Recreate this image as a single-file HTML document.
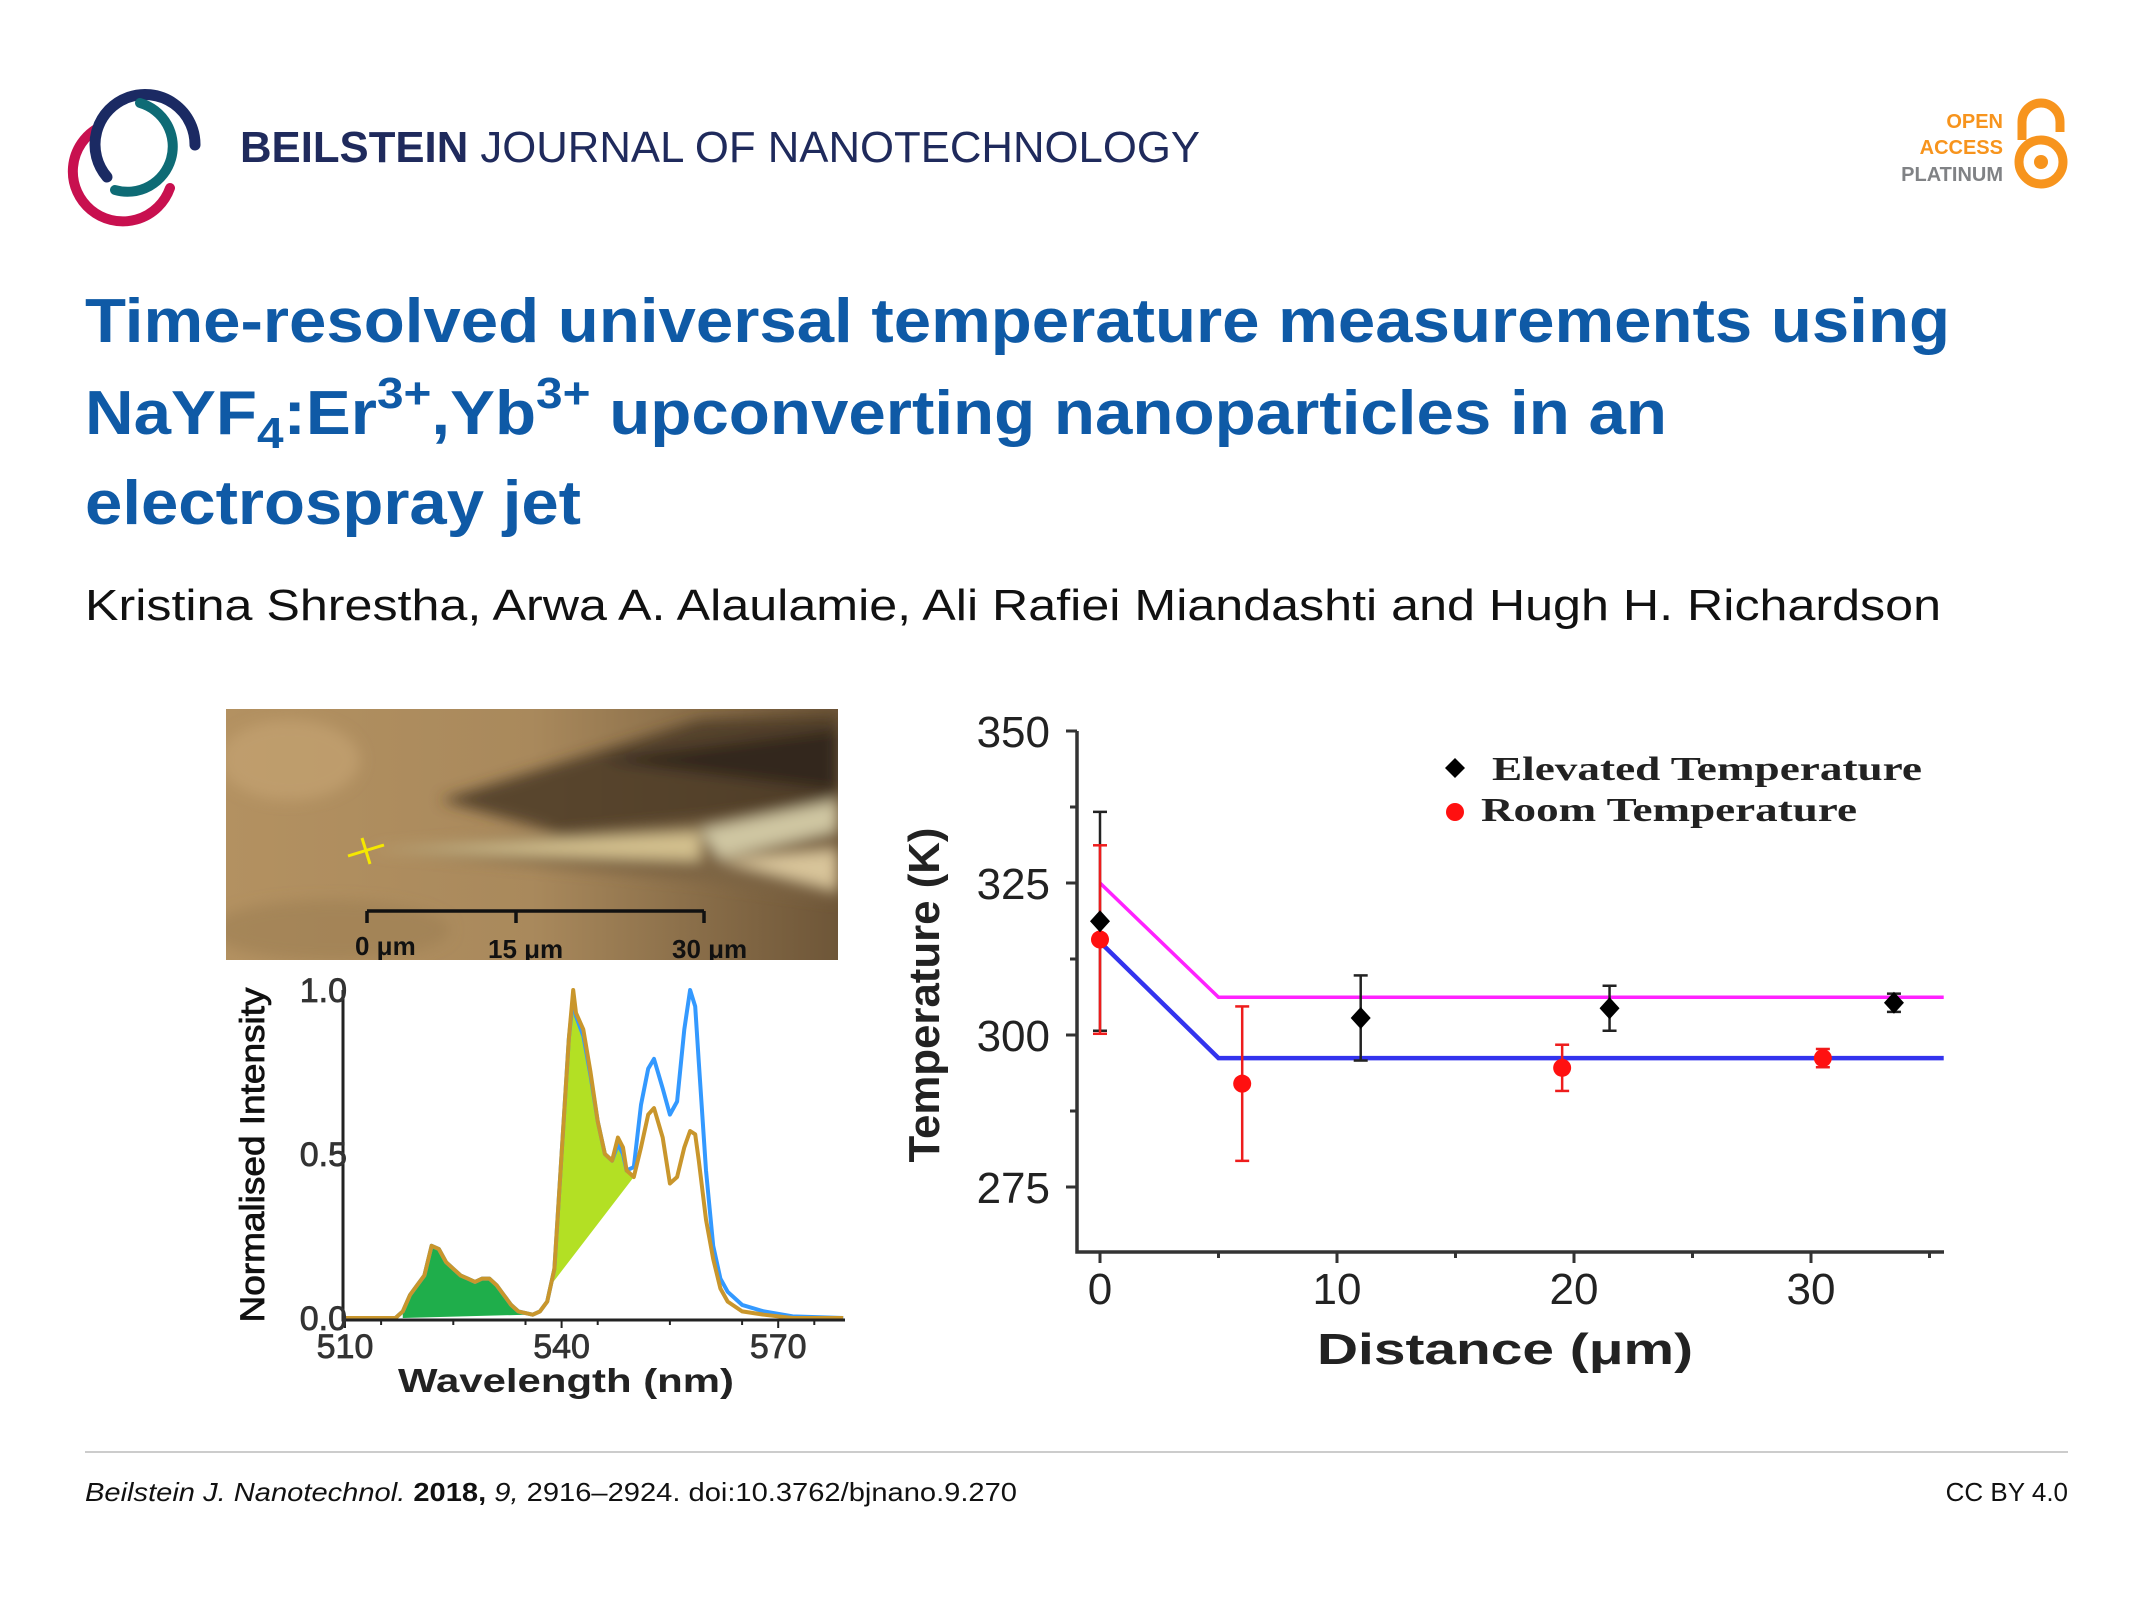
<!DOCTYPE html>
<html><head><meta charset="utf-8"><style>
html,body{margin:0;padding:0;background:#fff;}
svg{display:block;}
.sans{font-family:"Liberation Sans",sans-serif;}
.serif{font-family:"Liberation Serif",serif;}
</style></head>
<body>
<svg id="page" class="sans" font-family="Liberation Sans, sans-serif" width="2150" height="1602" viewBox="0 0 2150 1602" xmlns="http://www.w3.org/2000/svg">
<defs>
  <linearGradient id="bgPhoto" x1="0" y1="0" x2="1" y2="0">
    <stop offset="0" stop-color="#b39161"/>
    <stop offset="0.5" stop-color="#a9895c"/>
    <stop offset="1" stop-color="#6e5638"/>
  </linearGradient>
  <filter id="blur6"><feGaussianBlur stdDeviation="7"/></filter>
  <clipPath id="photoClip"><rect x="226" y="709" width="612" height="251"/></clipPath>
</defs>

<!-- Header -->
<g fill="none" stroke-linecap="round">
  <path d="M 98 128 A 50 50 0 1 0 170 188" stroke="#c8104f" stroke-width="10"/>
  <path d="M 107 177 A 50 50 0 1 1 195 145" stroke="#1b2a63" stroke-width="11"/>
  <path d="M 140 103 A 44 44 0 1 1 115 190" stroke="#0e6b75" stroke-width="10"/>
</g>
<text x="240" y="162" font-size="44" fill="#1f2a5c" textLength="960" lengthAdjust="spacingAndGlyphs"><tspan font-weight="bold">BEILSTEIN</tspan> JOURNAL OF NANOTECHNOLOGY</text>

<g>
  <text x="2003" y="128" font-size="20" font-weight="bold" fill="#f7941d" text-anchor="end">OPEN</text>
  <text x="2003" y="154" font-size="20" font-weight="bold" fill="#f7941d" text-anchor="end">ACCESS</text>
  <text x="2003" y="181" font-size="20" font-weight="bold" fill="#808285" text-anchor="end">PLATINUM</text>
  <path d="M 2022 140 L 2022 122 A 19 19 0 0 1 2060 122 L 2060 132" fill="none" stroke="#f7941d" stroke-width="9"/>
  <circle cx="2041" cy="162" r="22" fill="none" stroke="#f7941d" stroke-width="9"/>
  <circle cx="2041" cy="162" r="7" fill="#f7941d"/>
</g>

<g fill="#0f5aa6" font-weight="bold" font-size="62">
  <text x="85" y="342" textLength="1865" lengthAdjust="spacingAndGlyphs">Time-resolved universal temperature measurements using</text>
  <text x="85" y="434" textLength="1582" lengthAdjust="spacingAndGlyphs">NaYF<tspan font-size="44" dy="14">4</tspan><tspan dy="-14">:Er</tspan><tspan font-size="44" dy="-26">3+</tspan><tspan dy="26">,Yb</tspan><tspan font-size="44" dy="-26">3+</tspan><tspan dy="26"> upconverting nanoparticles in an</tspan></text>
  <text x="85" y="524" textLength="496" lengthAdjust="spacingAndGlyphs">electrospray jet</text>
</g>
<text x="85" y="620" font-size="44" fill="#111" textLength="1856" lengthAdjust="spacingAndGlyphs">Kristina Shrestha, Arwa A. Alaulamie, Ali Rafiei Miandashti and Hugh H. Richardson</text>

<!-- Photo -->
<g clip-path="url(#photoClip)">
  <rect x="226" y="709" width="612" height="251" fill="url(#bgPhoto)"/>
  <g filter="url(#blur6)">
    <polygon points="440,800 700,720 838,715 838,840 620,850" fill="#4a3a27" opacity="0.85"/>
    <polygon points="600,760 838,730 838,790" fill="#2f2519" opacity="0.9"/>
    <polygon points="380,850 700,820 838,800 838,900 700,880" fill="#7b6444" opacity="0.9"/>
    <polygon points="370,850 700,832 700,860" fill="#d3c08e"/>
    <polygon points="700,830 838,800 838,830 720,858" fill="#cfc6a2"/>
    <polygon points="720,860 838,850 838,890" fill="#d8c49a"/>
    <ellipse cx="290" cy="760" rx="70" ry="40" fill="#c4a272" opacity="0.7"/>
    <ellipse cx="330" cy="930" rx="120" ry="30" fill="#9d7e52" opacity="0.6"/>
  </g>
  <g stroke="#f5e800" stroke-width="3">
    <line x1="348" y1="856" x2="384" y2="845"/>
    <line x1="362" y1="838" x2="370" y2="864"/>
  </g>
  <g stroke="#111" stroke-width="3.5" fill="none">
    <line x1="367" y1="911" x2="704" y2="911"/>
    <line x1="367" y1="911" x2="367" y2="923"/>
    <line x1="516" y1="911" x2="516" y2="923"/>
    <line x1="704" y1="911" x2="704" y2="923"/>
  </g>
  <g font-size="26" font-weight="bold" fill="#111">
    <text x="355" y="955">0 μm</text>
    <text x="488" y="958">15 μm</text>
    <text x="672" y="958">30 μm</text>
  </g>
</g>

<!-- Spectrum chart -->
<g id="spec"></g>
<!-- Temperature chart -->
<g id="temp"></g>

<!-- Footer -->
<line x1="85" y1="1452" x2="2068" y2="1452" stroke="#cccccc" stroke-width="2"/>
<text x="85" y="1501" font-size="26" fill="#111" textLength="932" lengthAdjust="spacingAndGlyphs"><tspan font-style="italic">Beilstein J. Nanotechnol.</tspan> <tspan font-weight="bold">2018,</tspan> <tspan font-style="italic">9,</tspan> 2916–2924. doi:10.3762/bjnano.9.270</text>
<text x="2068" y="1501" font-size="26" fill="#111" text-anchor="end">CC BY 4.0</text>
</svg>

<script>
// ---- Spectrum data ----
const specWl = [510,517,518,519,520,521,522,523,524,525,526,527,528,529,530,531,532,533,534,536,537,538,539,540,541,541.6,542,543,544,545,546,547,547.8,548.5,549,550,551,552,552.8,554,555,556,557,557.8,558.5,559,560,561,562,563,565,568,572,579];
const specOrange = [0,0,0.02,0.07,0.1,0.13,0.22,0.21,0.17,0.15,0.13,0.12,0.11,0.12,0.12,0.1,0.07,0.04,0.02,0.01,0.02,0.05,0.15,0.5,0.85,1.0,0.93,0.88,0.75,0.6,0.5,0.48,0.55,0.52,0.45,0.43,0.52,0.62,0.64,0.55,0.41,0.43,0.52,0.57,0.56,0.48,0.3,0.18,0.09,0.05,0.02,0.01,0.0,0];
const specBlue = [0,0,0.02,0.07,0.1,0.13,0.22,0.21,0.17,0.15,0.13,0.12,0.11,0.12,0.12,0.1,0.07,0.04,0.02,0.01,0.02,0.05,0.15,0.5,0.85,0.98,0.92,0.86,0.74,0.6,0.5,0.48,0.53,0.5,0.45,0.46,0.65,0.76,0.79,0.7,0.62,0.66,0.88,1.0,0.95,0.78,0.45,0.22,0.12,0.08,0.04,0.02,0.005,0];
const specXTicks = [510,540,570];
const specYTicks = [0.0,0.5,1.0];
const greenRange = [518,535];
const limeRange = [538.5,550];

// ---- Temperature data ----
const distElev = [0,11,21.5,33.5];
const tempElev = [318.7,302.8,304.4,305.3];
const errElev = [18,7,3.7,1.5];
const distRoom = [0,6,19.5,30.5];
const tempRoom = [315.7,292.0,294.6,296.2];
const errRoom = [15.5,12.7,3.8,1.5];
const fitElevX = [0,5,35.6];
const fitElevY = [325,306.2,306.2];
const fitRoomX = [0,5,35.6];
const fitRoomY = [315.3,296.2,296.2];
const tempXTicks = [0,10,20,30];
const tempYTicks = [275,300,325,350];

const NS = 'http://www.w3.org/2000/svg';
function mk(parent, tag, attrs, text){
  const e = document.createElementNS(NS, tag);
  for (const k in attrs) e.setAttribute(k, attrs[k]);
  if (text !== undefined) e.textContent = text;
  parent.appendChild(e);
  return e;
}

// Spectrum
(function(){
  const g = document.getElementById('spec');
  const sx = w => 345 + (w - 510) * 7.22;
  const sy = v => 1318 - v * 328;
  const interp = w => { for (let i=0;i<specWl.length-1;i++){ if (w>=specWl[i]&&w<=specWl[i+1]){const t=(w-specWl[i])/(specWl[i+1]-specWl[i]);return specOrange[i]+t*(specOrange[i+1]-specOrange[i]);} } return 0; };
  let pts = [];
  pts.push(sx(greenRange[0])+','+sy(0));
  specWl.forEach((w,i)=>{ if (w>=greenRange[0]&&w<=greenRange[1]) pts.push(sx(w)+','+sy(specOrange[i])); });
  pts.push(sx(greenRange[1])+','+sy(0.01));
  let p = mk(g,'polygon',{points:pts.join(' '),fill:'#1fae4b'});
  
  
  pts = [];
  specWl.forEach((w,i)=>{ if (w>=limeRange[0]&&w<=limeRange[1]) pts.push(sx(w)+','+sy(specOrange[i])); });
  pts.push(sx(limeRange[1])+','+sy(interp(limeRange[1])));
  pts.push(sx(limeRange[0])+','+sy(interp(limeRange[0])));
  p = mk(g,'polygon',{points:pts.join(' '),fill:'#b3e024'});
  
  
  const lineOf = arr => specWl.map((w,i)=>(i?'L':'M')+sx(w).toFixed(1)+' '+sy(arr[i]).toFixed(1)).join(' ');
  p = mk(g,'path',{d:lineOf(specBlue),fill:'none',stroke:'#3399ff','stroke-width':4,'stroke-linejoin':'round'});
  
  
  p = mk(g,'path',{d:lineOf(specOrange),fill:'none',stroke:'#c9962c','stroke-width':4,'stroke-linejoin':'round'});
  
  
  p = mk(g,'path',{d:'M343 990 L343 1320 L845 1320',fill:'none',stroke:'#222','stroke-width':3});
  
  
  specXTicks.forEach(w=>{
    mk(g,'line',{x1:sx(w),y1:1320,x2:sx(w),y2:1328,stroke:'#222','stroke-width':2});
    const t = mk(g,'text',{x:sx(w),y:1358,'font-size':34,'text-anchor':'middle',fill:'#333',stroke:'#333','stroke-width':0.8},String(w));
    
    
  });
  [515,525,535,545,555,565,575].forEach(w=>mk(g,'line',{x1:sx(w),y1:1320,x2:sx(w),y2:1325,stroke:'#222','stroke-width':2}));
  specYTicks.forEach(v=>{
    const t = mk(g,'text',{x:347,y:sy(v)+12,'font-size':34,'text-anchor':'end',fill:'#333',stroke:'#333','stroke-width':0.8},v.toFixed(1));
    
    
  });
  let t = mk(g,'text',{x:566,y:1392,'font-size':33,'font-weight':'bold','text-anchor':'middle',fill:'#222',textLength:336,lengthAdjust:'spacingAndGlyphs'},'Wavelength (nm)');
  
  
  t = mk(g,'text',{x:0,y:0,'font-size':34,'text-anchor':'middle',fill:'#111',stroke:'#111','stroke-width':0.8,transform:'translate(264 1155) rotate(-90)',textLength:335,lengthAdjust:'spacingAndGlyphs'},'Normalised Intensity');
  
  
})();

// Temperature chart
(function(){
  const g = document.getElementById('temp');
  const X = d => 1100 + d * 23.7;
  const Y = v => 731 + (350 - v) * 6.08;
  let e;
  const poly = (xs,ys) => xs.map((x,i)=>X(x)+','+Y(ys[i])).join(' ');
  e = mk(g,'polyline',{points:poly(fitElevX,fitElevY),fill:'none',stroke:'#ff22ff','stroke-width':3.5});
  
  
  e = mk(g,'polyline',{points:poly(fitRoomX,fitRoomY),fill:'none',stroke:'#3333ee','stroke-width':4.5});
  
  
  const errbar = (x,v,er,col,name) => {
    const gg = mk(g,'g',{stroke:col,'stroke-width':2.5});
    
    
    mk(gg,'line',{x1:X(x),y1:Y(v+er),x2:X(x),y2:Y(v-er)});
    mk(gg,'line',{x1:X(x)-7,y1:Y(v+er),x2:X(x)+7,y2:Y(v+er)});
    mk(gg,'line',{x1:X(x)-7,y1:Y(v-er),x2:X(x)+7,y2:Y(v-er)});
  };
  distElev.forEach((d,i)=>errbar(d,tempElev[i],errElev[i],'#222','elevated-error-bar'));
  distRoom.forEach((d,i)=>errbar(d,tempRoom[i],errRoom[i],'#ee1c1c','room-error-bar'));
  distRoom.forEach((d,i)=>{
    const c = mk(g,'circle',{cx:X(d),cy:Y(tempRoom[i]),r:9,fill:'#ff1010'});
    
    
  });
  distElev.forEach((d,i)=>{
    const x=X(d), y=Y(tempElev[i]);
    const c = mk(g,'polygon',{points:`${x},${y-11} ${x+10},${y} ${x},${y+11} ${x-10},${y}`,fill:'#000'});
    
    
  });
  e = mk(g,'path',{d:'M1077 731 L1077 1252 L1944 1252',fill:'none',stroke:'#333','stroke-width':3.5});
  
  
  tempYTicks.forEach(v=>{
    mk(g,'line',{x1:1066,y1:Y(v),x2:1077,y2:Y(v),stroke:'#333','stroke-width':3});
    const t = mk(g,'text',{x:1050,y:Y(v)+16,'font-size':44,'text-anchor':'end',fill:'#222'},String(v));
    
    
  });
  [287.5,312.5,337.5].forEach(v=>mk(g,'line',{x1:1070,y1:Y(v),x2:1077,y2:Y(v),stroke:'#333','stroke-width':3}));
  tempXTicks.forEach(d=>{
    mk(g,'line',{x1:X(d),y1:1252,x2:X(d),y2:1263,stroke:'#333','stroke-width':3});
    const t = mk(g,'text',{x:X(d),y:1304,'font-size':44,'text-anchor':'middle',fill:'#222'},String(d));
    
    
  });
  [5,15,25,35].forEach(d=>mk(g,'line',{x1:X(d),y1:1252,x2:X(d),y2:1258,stroke:'#333','stroke-width':3}));
  let t = mk(g,'text',{x:1505,y:1364,'font-size':44,'font-weight':'bold','text-anchor':'middle',fill:'#222',textLength:376,lengthAdjust:'spacingAndGlyphs'},'Distance (μm)');
  
  
  t = mk(g,'text',{x:0,y:0,'font-size':44,'font-weight':'bold','text-anchor':'middle',fill:'#222',transform:'translate(939 995) rotate(-90)',textLength:335,lengthAdjust:'spacingAndGlyphs'},'Temperature (K)');
  
  
  const lg = mk(g,'g',{});
  
  
  let m = mk(lg,'polygon',{points:'1455,758 1465,768 1455,778 1445,768',fill:'#000'});
  
  
  t = mk(lg,'text',{x:1492,y:780,'font-size':34,'font-weight':'bold','font-family':'Liberation Serif, serif','class':'serif',fill:'#222',textLength:430,lengthAdjust:'spacingAndGlyphs'},'Elevated Temperature');
  
  
  m = mk(lg,'circle',{cx:1455,cy:812,r:9,fill:'#ff1010'});
  
  
  t = mk(lg,'text',{x:1481,y:821,'font-size':34,'font-weight':'bold','font-family':'Liberation Serif, serif','class':'serif',fill:'#222',textLength:376,lengthAdjust:'spacingAndGlyphs'},'Room Temperature');
  
  
})();
</script>
</body></html>
